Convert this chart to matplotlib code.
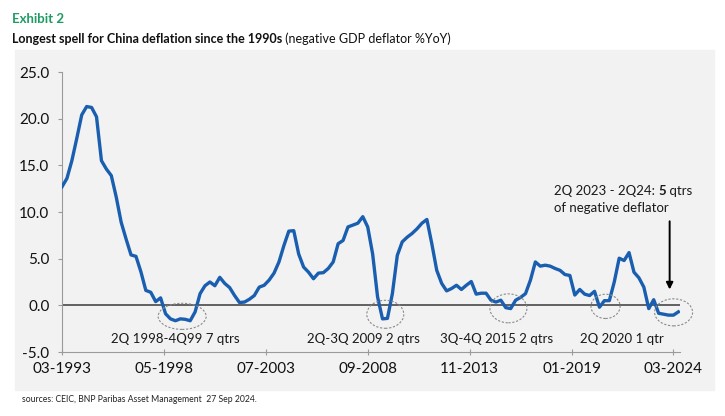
import numpy as np
import pandas as pd
from matplotlib import pyplot as plt
from matplotlib.patches import Ellipse, Rectangle

plt.rcParams['font.family'] = ['Lato', 'DejaVu Sans']

# quarterly GDP deflator, %YoY, 1Q1993 .. 2Q2024
start_q = '1993Q1'
end_q = '2024Q2'
deflator = [
    12.7, 13.6, 15.5, 17.9, 20.4, 21.3, 21.2, 20.2,
    15.5, 14.6, 13.9, 11.6, 8.9, 7.1, 5.4, 5.25,
    3.6, 1.6, 1.4, 0.4, 0.8, -0.9, -1.45, -1.65,
    -1.45, -1.5, -1.65, -0.7, 1.25, 2.1, 2.5, 2.1,
    3.0, 2.35, 1.9, 1.05, 0.3, 0.35, 0.65, 1.05,
    1.95, 2.15, 2.7, 3.45, 4.65, 6.4, 7.95, 8.0,
    5.5, 4.1, 3.55, 2.85, 3.45, 3.5, 3.95, 4.65,
    6.6, 6.95, 8.4, 8.6, 8.8, 9.5, 8.4, 5.5,
    0.9, -1.45, -1.4, 1.25, 5.35, 6.8, 7.3, 7.7,
    8.2, 8.8, 9.2, 6.6, 3.75, 2.35, 1.55, 1.8,
    2.15, 1.7, 2.15, 2.55, 1.2, 1.3, 1.3, 0.55,
    0.35, 0.55, -0.25, -0.35, 0.55, 0.85, 1.25, 2.7,
    4.65, 4.2, 4.3, 4.2, 3.95, 3.75, 3.3, 3.2,
    1.1, 1.7, 1.2, 1.05, 1.5, -0.2, 0.5, 0.5,
    2.5, 5.05, 4.8, 5.65, 3.55, 2.95, 1.95, -0.35,
    0.6, -0.85, -0.95, -1.05, -1.05, -0.7,
]
tick_labels = ['03-1993', '05-1998', '07-2003', '09-2008', '11-2013', '01-2019', '03-2024']

# deflation episodes: label, label x (months), ellipse centre x, y, width, height
episodes = [
    ('2Q 1998-4Q99 7 qtrs', 68.8, 73.1, -1.18, 29.2, 2.8),
    ('2Q-3Q 2009 2 qtrs', 183.3, 196.7, -0.96, 22.5, 3.0),
    ('3Q-4Q 2015 2 qtrs', 264.3, 271.6, -0.32, 22.5, 3.1),
    ('2Q 2020 1 qtr', 340.4, 330.7, -0.11, 17.7, 2.6),
    ('', 0, 372.1, -0.75, 23.1, 2.9),
]

quarters = pd.period_range(start_q, end_q, freq='Q')
base = pd.Period('1993-03', freq='M')
x = np.array([(q.asfreq('M', 'end') - base).n for q in quarters])
tick_pos = [(pd.Period(f'{t[3:]}-{t[:2]}', freq='M') - base).n for t in tick_labels]

W, H = 725, 416
fig = plt.figure(figsize=(W / 100, H / 100), dpi=100)
fig.patch.set_facecolor('white')
fig.add_artist(Rectangle((15 / W, 1 - 390 / H), 699 / W, 340 / H,
                         transform=fig.transFigure, color='#f2f2f2', zorder=0))

ax = fig.add_axes([62 / W, 1 - 352 / H, 618 / W, 280 / H])
ax.set_facecolor('none')

ax.axhline(0, color='#3a3a3a', lw=1.1, zorder=2)
ax.plot(x, deflator, color='#1a5eb0', lw=2.4, solid_joinstyle='round', zorder=3)

ax.set_xlim(0, 376)
ax.set_ylim(-5, 25)
ax.set_yticks(np.arange(-5, 26, 5))
ax.set_yticklabels([f'{v:.1f}' for v in np.arange(-5, 26, 5)])
ax.set_xticks(tick_pos)
ax.set_xticklabels(tick_labels)
for s in ['top', 'right']:
    ax.spines[s].set_visible(False)
for s in ['left', 'bottom']:
    ax.spines[s].set_color('#9a9a9a')
    ax.spines[s].set_linewidth(0.8)
ax.tick_params(axis='y', length=3, width=0.8, color='#9a9a9a', pad=6, labelsize=11, labelcolor='#111111')
ax.tick_params(axis='x', direction='inout', length=5, width=0.8, color='#9a9a9a', pad=5,
               labelsize=11, labelcolor='#111111')

for lab, lx, cx, cy, ew, eh in episodes:
    ax.add_patch(Ellipse((cx, cy), ew, eh, fill=False, ec='#8a8a8a', lw=0.8,
                         ls=(0, (2, 1.5)), clip_on=False, zorder=4))
    if lab:
        ax.text(lx, -3.64, lab, ha='center', va='center', fontsize=9.5, color='#1a1a1a')

# call-out for the current spell
t1 = ax.text(299.6, 12.2, '2Q 2023 - 2Q24: ', ha='left', va='center', fontsize=9.5, color='#1a1a1a')
t2 = ax.annotate('5', xy=(1, 0), xycoords=t1, va='bottom', ha='left',
                 fontsize=9.5, fontweight='bold', color='#1a1a1a')
ax.annotate(' qtrs', xy=(1, 0), xycoords=t2, va='bottom', ha='left', fontsize=9.5, color='#1a1a1a')
ax.text(299.6, 10.4, 'of negative deflator', ha='left', va='center', fontsize=9.5, color='#1a1a1a')
ax.annotate('', xy=(369.7, 1.4), xytext=(369.7, 9.3),
            arrowprops=dict(arrowstyle='-|>', color='black', lw=1.4, mutation_scale=10))

fig.text(12 / W, 1 - 19 / H, 'Exhibit 2', color='#1f9a63', fontweight='bold', fontsize=9.5, va='center')
tt = fig.text(12 / W, 1 - 39 / H, 'Longest spell for China deflation since the 1990s',
              fontweight='bold', fontsize=9, va='center', color='#111111')
ax.annotate(' (negative GDP deflator %YoY)', xy=(1, 0), xycoords=tt, va='bottom', ha='left',
            fontsize=9, color='#111111', annotation_clip=False)
fig.text(22 / W, 1 - 400 / H, 'sources: CEIC, BNP Paribas Asset Management  27 Sep 2024.',
         fontsize=6.2, va='center', color='#222222')

fig.savefig('out.png', dpi=100)
